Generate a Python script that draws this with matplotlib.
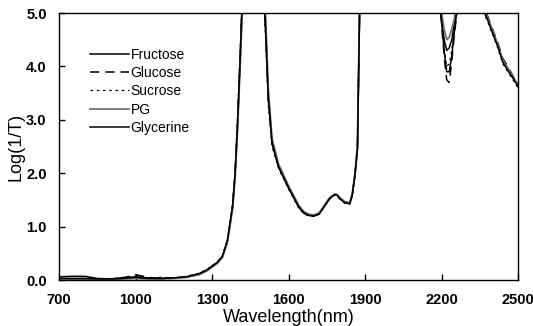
import matplotlib
matplotlib.use("Agg")
import matplotlib.pyplot as plt

plt.rcParams['font.family'] = ['Liberation Sans', 'DejaVu Sans']

wavelength = [700, 750, 800, 850, 900, 950, 1000, 1050, 1100, 1150, 1200, 1250, 1280,
              1300, 1320, 1340, 1360, 1380, 1390, 1400, 1410, 1420, 1440, 1480, 1500,
              1510, 1520, 1535, 1560, 1600, 1640, 1660, 1680, 1700, 1720, 1740, 1760,
              1780, 1790, 1800, 1820, 1840, 1850, 1860, 1870, 1880, 1900, 2000, 2100,
              2180, 2200, 2210, 2220, 2230, 2240, 2250, 2260, 2280, 2300, 2340, 2360,
              2380, 2400, 2420, 2440, 2460, 2480, 2500]

fructose = [0.06, 0.07, 0.07, 0.03, 0.02, 0.04, 0.06, 0.04, 0.03, 0.04, 0.06, 0.12, 0.19,
            0.26, 0.33, 0.44, 0.74, 1.38, 2.0, 3.0, 4.2, 5.5, 6.0, 6.0, 5.6,
            4.6, 3.4, 2.55, 2.12, 1.72, 1.36, 1.25, 1.21, 1.2, 1.24, 1.38, 1.52,
            1.6, 1.59, 1.53, 1.45, 1.43, 1.6, 1.95, 2.45, 5.5, 6.0, 6.0, 6.0,
            6.0, 4.9, 4.5, 4.3, 4.35, 4.5, 4.8, 5.1, 6.0, 6.0, 6.0, 5.1,
            4.9, 4.65, 4.4, 4.1, 3.95, 3.8, 3.65]
glucose = [0.02, 0.02, 0.03, 0.02, 0.02, 0.04, 0.1, 0.05, 0.03, 0.04, 0.06, 0.11, 0.18,
           0.25, 0.32, 0.43, 0.72, 1.35, 1.95, 2.9, 4.1, 5.4, 6.0, 6.0, 5.7,
           4.8, 3.5, 2.6, 2.15, 1.74, 1.38, 1.27, 1.22, 1.21, 1.25, 1.39, 1.53,
           1.6, 1.6, 1.54, 1.46, 1.44, 1.62, 1.97, 2.5, 5.6, 6.0, 6.0, 6.0,
           6.0, 4.8, 4.2, 3.75, 3.7, 4.1, 4.6, 5.0, 6.0, 6.0, 6.0, 5.2,
           4.95, 4.7, 4.45, 4.15, 4.0, 3.82, 3.68]
sucrose = [0.02, 0.02, 0.02, 0.02, 0.02, 0.05, 0.07, 0.04, 0.05, 0.04, 0.07, 0.13, 0.2,
           0.27, 0.34, 0.45, 0.76, 1.4, 2.05, 3.1, 4.3, 5.6, 6.0, 6.0, 5.5,
           4.5, 3.3, 2.5, 2.1, 1.7, 1.34, 1.24, 1.2, 1.19, 1.23, 1.37, 1.51,
           1.59, 1.58, 1.52, 1.44, 1.42, 1.58, 1.93, 2.4, 5.4, 6.0, 6.0, 6.0,
           6.0, 4.85, 4.35, 4.0, 4.05, 4.3, 4.7, 5.05, 6.0, 6.0, 6.0, 5.05,
           4.85, 4.6, 4.35, 4.05, 3.9, 3.75, 3.6]
pg = [0.01, 0.01, 0.01, 0.01, 0.01, 0.02, 0.03, 0.02, 0.02, 0.03, 0.05, 0.1, 0.17,
      0.24, 0.31, 0.42, 0.7, 1.32, 1.9, 2.85, 4.0, 5.3, 6.0, 6.0, 5.8,
      4.9, 3.6, 2.65, 2.18, 1.76, 1.4, 1.28, 1.23, 1.22, 1.26, 1.4, 1.54,
      1.61, 1.6, 1.55, 1.47, 1.45, 1.63, 1.99, 2.55, 5.7, 6.0, 6.0, 6.0,
      6.0, 5.0, 4.7, 4.5, 4.55, 4.7, 4.9, 5.2, 6.0, 6.0, 6.0, 5.15,
      4.92, 4.68, 4.42, 4.12, 3.97, 3.8, 3.66]
glycerine = [0.03, 0.03, 0.03, 0.02, 0.02, 0.03, 0.05, 0.03, 0.03, 0.04, 0.06, 0.12, 0.19,
             0.26, 0.33, 0.44, 0.74, 1.37, 1.98, 2.95, 4.15, 5.45, 6.0, 6.0, 5.6,
             4.7, 3.45, 2.58, 2.13, 1.73, 1.37, 1.26, 1.21, 1.2, 1.24, 1.38, 1.52,
             1.6, 1.59, 1.53, 1.45, 1.43, 1.61, 1.96, 2.47, 5.5, 6.0, 6.0, 6.0,
             6.0, 4.85, 4.3, 3.9, 3.9, 4.2, 4.65, 5.05, 6.0, 6.0, 6.0, 5.1,
             4.88, 4.62, 4.38, 4.08, 3.92, 3.78, 3.62]

series_names = ['Fructose', 'Glucose', 'Sucrose', 'PG', 'Glycerine']
series_values = [fructose, glucose, sucrose, pg, glycerine]
line_styles = [
    dict(color='black', linestyle='-', linewidth=1.1),
    dict(color='black', linestyle=(0, (6, 4)), linewidth=1.1),
    dict(color='black', linestyle=(0, (2, 3)), linewidth=0.9),
    dict(color='0.45', linestyle='-', linewidth=1.3),
    dict(color='black', linestyle='-', linewidth=1.1),
]

x_ticks = [700, 1000, 1300, 1600, 1900, 2200, 2500]
y_ticks = [0.0, 1.0, 2.0, 3.0, 4.0, 5.0]

fig = plt.figure(figsize=(5.33, 3.26), dpi=100)
ax = fig.add_axes([0.111, 0.141, 0.861, 0.819])

for name, values, style in zip(series_names, series_values, line_styles):
    ax.plot(wavelength, values, label=name, **style)

ax.set_xlim(700, 2500)
ax.set_ylim(0, 5)
ax.set_xticks(x_ticks)
ax.set_yticks(y_ticks)
ax.set_yticklabels(['%.1f' % v for v in y_ticks])
ax.tick_params(direction='in', length=4, width=1, labelsize=10.5)
ax.tick_params(axis='x', pad=9)
ax.tick_params(axis='y', pad=9)
for label in ax.get_xticklabels() + ax.get_yticklabels():
    label.set_fontweight('semibold')
for spine in ax.spines.values():
    spine.set_linewidth(1)

ax.set_xlabel('Wavelength(nm)', fontsize=13, labelpad=2)
ax.set_ylabel('Log(1/T)', fontsize=13, labelpad=1)

ax.legend(loc='upper left', bbox_to_anchor=(0.0675, 0.869), frameon=False,
          fontsize=10, handlelength=2.8, handletextpad=0.1, labelspacing=0.3,
          borderpad=0, borderaxespad=0)

fig.savefig('out.png', dpi=100)
